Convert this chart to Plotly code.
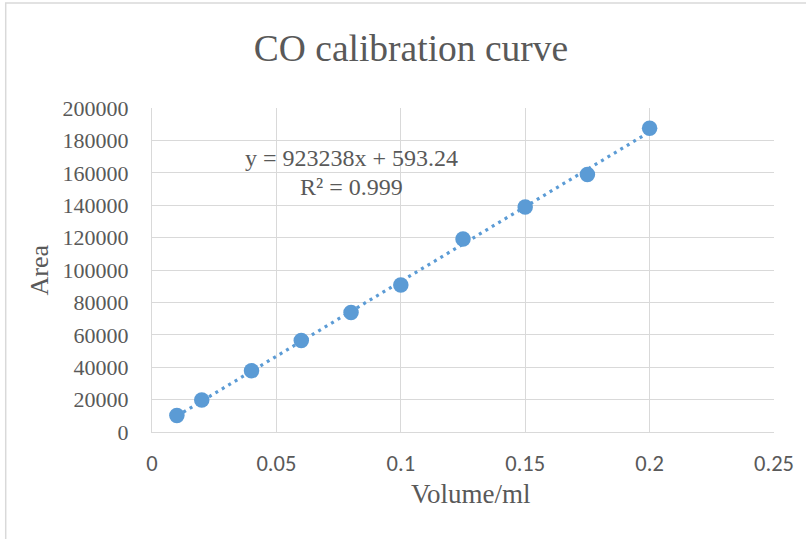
import plotly.graph_objects as go

# Calibration standards
volume_ml = [0.01, 0.02, 0.04, 0.06, 0.08, 0.1, 0.125, 0.15, 0.175, 0.2]
area = [10200, 19800, 37800, 56500, 73800, 90700, 119100, 138900, 159000, 187500]

# Linear trendline coefficients
slope = 923238
intercept = 593.24
r_squared = 0.999

x_ticks = [0, 0.05, 0.1, 0.15, 0.2, 0.25]
x_tick_text = ["0", "0.05", "0.1", "0.15", "0.2", "0.25"]
y_ticks = list(range(0, 200001, 20000))

BLUE = "#5B9BD5"
GRID = "#d9d9d9"
TEXT = "#595959"
SERIF = "Liberation Serif, Times New Roman, serif"
SANS = "Carlito, Lato, Liberation Sans, sans-serif"

trend_x = [volume_ml[0], volume_ml[-1]]
trend_y = [slope * v + intercept for v in trend_x]

fig = go.Figure()
fig.add_trace(go.Scatter(
    x=trend_x, y=trend_y, mode="lines",
    line=dict(color=BLUE, width=3.2, dash="3px,4.5px"),
    hoverinfo="skip", showlegend=False,
))
fig.add_trace(go.Scatter(
    x=volume_ml, y=area, mode="markers",
    marker=dict(color=BLUE, size=15.5),
    showlegend=False,
))

W, H = 806, 539
L, R, T, B = 152, 29, 108, 107
PW, PH = W - L - R, H - T - B


def px(x):
    return (x - L) / PW


def py(y):
    return (H - B - y) / PH


fig.update_layout(
    width=W, height=H,
    margin=dict(l=L, r=R, t=T, b=B),
    paper_bgcolor="white", plot_bgcolor="white",
    title=dict(
        text="CO calibration curve",
        font=dict(family=SERIF, size=37.5, color=TEXT),
        x=411 / W, xref="container", xanchor="center",
        y=1 - 48 / H, yref="container", yanchor="middle",
    ),
    xaxis=dict(
        range=[0, 0.25], tickvals=x_ticks, ticktext=x_tick_text,
        showgrid=True, gridcolor=GRID, gridwidth=1.3,
        showline=True, linecolor=GRID, linewidth=1.3, zeroline=False,
        ticks="", ticklabelstandoff=11,
        tickfont=dict(family=SANS, size=22.5, color=TEXT),
    ),
    yaxis=dict(
        range=[0, 200000], tickvals=y_ticks, tickformat="d",
        showgrid=True, gridcolor=GRID, gridwidth=1.3,
        showline=True, linecolor=GRID, linewidth=1.3, zeroline=False,
        ticks="", ticklabelstandoff=18,
        tickfont=dict(family=SERIF, size=22, color=TEXT),
    ),
    annotations=[
        dict(text=f"y = {slope}x + {intercept}", x=0.08, y=169000,
             xref="x", yref="y", showarrow=False,
             xanchor="center", yanchor="middle",
             font=dict(family=SERIF, size=24, color=TEXT)),
        dict(text=f"R² = {r_squared}", x=0.08, y=151500,
             xref="x", yref="y", showarrow=False,
             xanchor="center", yanchor="middle",
             font=dict(family=SERIF, size=24, color=TEXT)),
        dict(text="Volume/ml", x=px(473), y=py(494),
             xref="paper", yref="paper", showarrow=False,
             xanchor="center", yanchor="middle",
             font=dict(family=SERIF, size=27, color=TEXT)),
        dict(text="Area", x=px(38), y=0.5, textangle=-90,
             xref="paper", yref="paper", showarrow=False,
             xanchor="center", yanchor="middle",
             font=dict(family=SERIF, size=26, color=TEXT)),
    ],
    shapes=[
        dict(type="rect", xref="paper", yref="paper",
             x0=px(5), x1=px(W + 10), y0=py(H + 10), y1=py(3),
             line=dict(color=GRID, width=1.5), layer="below"),
    ],
)

fig.write_html("out.html")
